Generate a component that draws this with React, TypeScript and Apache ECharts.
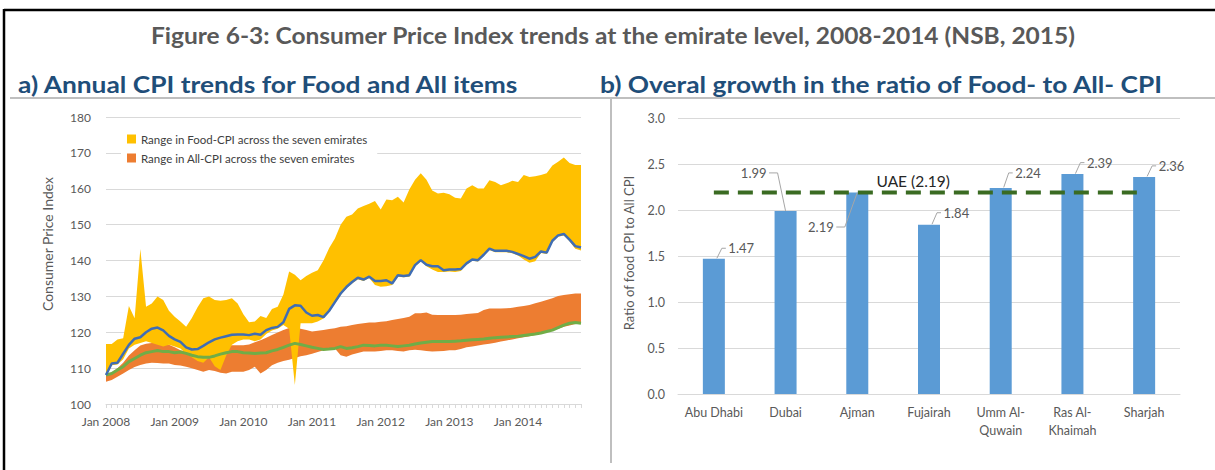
import React, { useEffect, useRef } from 'react';
import * as echarts from 'echarts';

// ---------- Panel a: monthly CPI, Jan 2008 - Dec 2014 ----------
const years = [2008, 2009, 2010, 2011, 2012, 2013, 2014];
const monthNames = ['Jan', 'Feb', 'Mar', 'Apr', 'May', 'Jun', 'Jul', 'Aug', 'Sep', 'Oct', 'Nov', 'Dec'];
const months = years.flatMap((y) => monthNames.map((m) => `${m} ${y}`));

// Highest Food-CPI among the seven emirates
const foodMax = [
  116.7, 116.7, 118.0, 118.3, 127.3, 123.9, 143.2, 127.1, 128.0, 130.0, 129.0, 126.0,
  124.3, 123.0, 121.5, 124.0, 127.0, 129.5, 130.0, 129.0, 128.8, 129.0, 129.5, 128.0,
  125.0, 122.8, 123.0, 124.5, 124.0, 126.5, 127.1, 130.5, 136.9, 136.0, 134.5, 135.7,
  136.6, 137.3, 140.0, 143.5, 146.1, 150.0, 152.2, 152.8, 154.5, 155.2, 155.8, 156.6,
  154.2, 157.0, 156.8, 157.8, 156.2, 159.8, 162.5, 164.3, 162.5, 159.5, 158.7, 158.9,
  158.5, 157.5, 157.3, 160.1, 161.0, 160.1, 160.1, 162.4, 161.9, 161.0, 161.5, 162.2,
  161.9, 163.8, 163.3, 163.5, 163.8, 164.3, 166.5, 167.5, 168.7, 167.2, 166.6, 166.6,
];
// Lowest Food-CPI among the seven emirates
const foodMin = [
  107.8, 110.8, 111.0, 112.5, 115.5, 116.5, 117.0, 117.5, 117.0, 116.5, 116.0, 116.5,
  116.0, 115.5, 114.0, 113.0, 112.0, 111.5, 113.0, 110.5, 109.5, 113.5, 116.5, 117.5,
  118.0, 118.0, 117.5, 118.0, 119.5, 120.5, 121.0, 122.0, 121.0, 105.3, 122.5, 122.5,
  122.5, 123.0, 123.8, 125.6, 128.0, 130.4, 132.2, 133.6, 134.8, 134.3, 135.1, 133.2,
  132.7, 132.8, 133.2, 135.5, 135.3, 135.5, 138.3, 139.7, 138.4, 137.5, 136.8, 136.8,
  136.9, 136.8, 137.1, 138.8, 139.9, 139.7, 141.2, 142.9, 142.3, 142.3, 142.3, 142.0,
  141.4, 140.3, 139.4, 139.8, 142.1, 141.8, 145.1, 146.6, 147.0, 145.4, 143.3, 142.8,
];
// Highest All-CPI among the seven emirates
const allMax = [
  108.3, 108.8, 110.0, 111.5, 113.5, 115.0, 116.3, 116.8, 117.0, 117.4, 117.0, 116.5,
  115.8, 115.0, 114.6, 114.2, 113.8, 113.8, 114.3, 115.3, 116.0, 116.2, 116.4, 116.4,
  116.4, 116.6, 117.2, 117.8, 118.5, 119.2, 119.9, 120.6, 121.2, 121.4, 121.0, 120.6,
  120.2, 120.4, 120.6, 120.9, 121.1, 121.5, 121.7, 122.0, 122.3, 122.5, 122.7, 122.7,
  122.9, 123.1, 123.4, 123.7, 124.0, 124.3, 125.3, 125.3, 125.5, 124.9, 124.8, 124.8,
  124.8, 124.8, 124.9, 125.1, 125.2, 125.4, 126.2, 126.6, 126.6, 126.6, 126.7, 126.8,
  127.1, 127.3, 127.6, 128.1, 128.5, 129.0, 129.5, 130.1, 130.4, 130.6, 130.8, 130.8,
];
// Lowest All-CPI among the seven emirates
const allMin = [
  106.2, 106.7, 107.6, 108.5, 109.5, 110.3, 110.9, 111.3, 111.5, 111.4, 111.3, 111.3,
  110.9, 110.7, 110.4, 110.0, 109.5, 109.0, 109.5, 109.2, 108.7, 108.5, 109.0, 109.0,
  109.0, 109.5, 110.4, 108.5, 109.5, 110.8, 111.5, 112.0, 112.3, 112.8, 113.3, 113.6,
  114.0, 114.5, 115.0, 115.2, 115.5, 113.6, 113.2, 113.8, 114.2, 114.6, 114.6, 114.6,
  114.8, 115.0, 115.0, 114.8, 114.6, 115.0, 115.1, 115.0, 114.8, 114.6, 114.7, 114.8,
  115.0, 115.0, 115.3, 115.8, 116.0, 116.3, 116.6, 116.8, 117.1, 117.4, 117.7, 118.0,
  118.3, 118.6, 118.9, 119.2, 119.6, 120.0, 120.6, 121.0, 121.5, 121.9, 122.3, 122.5,
];
// UAE-level Food-CPI (blue line)
const uaeFood = [
  108.1, 111.3, 111.5, 114.0, 116.5, 118.2, 118.6, 120.0, 121.0, 121.3, 120.5, 119.0,
  118.0, 117.3, 115.8, 115.2, 115.3, 116.2, 117.2, 118.0, 118.5, 118.9, 119.3, 119.4,
  119.4, 119.2, 119.6, 119.3, 120.6, 121.2, 121.5, 122.8, 126.5, 127.5, 127.4, 125.5,
  124.6, 124.8, 124.2, 126.0, 128.4, 130.8, 132.6, 134.0, 135.2, 134.7, 135.5, 134.3,
  134.3, 134.5, 133.6, 135.9, 135.7, 135.9, 138.7, 140.1, 138.8, 138.4, 138.4, 137.3,
  137.5, 137.5, 137.6, 139.2, 140.3, 140.1, 141.6, 143.3, 142.7, 142.7, 142.7, 142.4,
  141.8, 141.2, 140.5, 141.0, 142.5, 142.2, 145.5, 147.0, 147.4, 145.8, 144.0, 143.6,
];
// UAE-level All-CPI (green line)
const uaeAll = [
  108.1, 108.5, 109.5, 110.4, 111.8, 112.7, 113.6, 114.3, 114.6, 114.9, 114.6, 114.6,
  114.3, 114.5, 114.1, 113.6, 113.2, 113.0, 113.0, 113.4, 113.9, 114.3, 114.6, 114.6,
  114.3, 114.2, 114.1, 114.2, 114.3, 114.8, 115.2, 115.8, 116.4, 116.9, 116.6, 116.2,
  115.8, 115.5, 115.2, 115.3, 115.5, 116.0, 115.5, 115.7, 116.0, 116.4, 116.3, 116.2,
  116.4, 116.4, 116.2, 116.0, 116.2, 116.4, 116.7, 117.0, 117.2, 117.4, 117.4, 117.4,
  117.4, 117.5, 117.6, 117.8, 117.9, 118.0, 118.1, 118.3, 118.5, 118.6, 118.7, 118.8,
  118.9, 119.1, 119.3, 119.5, 119.8, 120.2, 120.6, 121.3, 122.0, 122.5, 122.7, 122.5,
];

// ---------- Panel b: ratio of Food- to All-CPI growth ----------
const emirates = ['Abu Dhabi', 'Dubai', 'Ajman', 'Fujairah', 'Umm Al-\nQuwain', 'Ras Al-\nKhaimah', 'Sharjah'];
const ratio = [1.47, 1.99, 2.19, 1.84, 2.24, 2.39, 2.36];
const uaeRatioLine = [2.19, 2.19, 2.19, 2.19, 2.19, 2.19, 2.19];
const uaeRatioLabel = 'UAE (2.19)';

const FOOD_NAME = 'Range in Food-CPI across the seven emirates';
const ALL_NAME = 'Range in All-CPI across the seven emirates';
const FONT = 'Lato, "Noto Sans", sans-serif';

// callout placement (style only): side of the label and its offset from the bar top
const callouts = [
  { side: 'right', dx: 14.5, dy: -10.5 },
  { side: 'left', dx: -19, dy: -38 },
  { side: 'left', dx: -23.5, dy: 34.5 },
  { side: 'right', dx: 14.5, dy: -12 },
  { side: 'right', dx: 14.5, dy: -15 },
  { side: 'right', dx: 14.5, dy: -11.5 },
  { side: 'right', dx: 14.5, dy: -11 },
];

export default function App() {
  const ref = useRef<HTMLDivElement>(null);

  useEffect(() => {
    if (!ref.current) return;
    const chart = echarts.init(ref.current, undefined, { renderer: 'svg' });
    const foodRange = foodMax.map((v, i) => +(v - foodMin[i]).toFixed(2));
    const allRange = allMax.map((v, i) => +(v - allMin[i]).toFixed(2));
    const gray = '#595959';
    const grid = '#D9D9D9';

    chart.setOption({
      animation: false,
      backgroundColor: '#fff',
      textStyle: { fontFamily: FONT },
      grid: [
        { left: 106, right: 634, top: 117, bottom: 66 },
        { left: 678, right: 35, top: 118, bottom: 76 },
      ],
      legend: {
        orient: 'vertical',
        left: 121,
        top: 129,
        padding: [4, 10, 4, 6],
        backgroundColor: '#fff',
        itemWidth: 9,
        itemHeight: 9,
        itemGap: 7,
        icon: 'rect',
        selectedMode: false,
        textStyle: { fontSize: 11.5, color: '#404040', fontFamily: FONT },
        data: [
          { name: FOOD_NAME, itemStyle: { color: '#FFC000' } },
          { name: ALL_NAME, itemStyle: { color: '#ED7D31' } },
        ],
      },
      xAxis: [
        {
          type: 'category',
          gridIndex: 0,
          data: months,
          boundaryGap: false,
          axisLine: { lineStyle: { color: grid } },
          axisTick: { show: true, interval: 0, length: 4, lineStyle: { color: grid } },
          axisLabel: {
            interval: (idx: number) => idx % 12 === 0,
            color: gray,
            fontSize: 12,
            margin: 11,
          },
          splitLine: { show: false },
        },
        {
          type: 'category',
          gridIndex: 1,
          data: emirates,
          axisLine: { lineStyle: { color: grid } },
          axisTick: { show: false },
          axisLabel: { color: gray, fontSize: 12.5, lineHeight: 18, margin: 9, interval: 0 },
        },
      ],
      yAxis: [
        {
          type: 'value',
          gridIndex: 0,
          min: 100,
          max: 180,
          interval: 10,
          axisLine: { show: false },
          axisTick: { show: false },
          axisLabel: { color: gray, fontSize: 12, margin: 15 },
          splitLine: { lineStyle: { color: grid } },
        },
        {
          type: 'value',
          gridIndex: 1,
          min: 0,
          max: 3,
          interval: 0.5,
          axisLine: { show: false },
          axisTick: { show: false },
          axisLabel: { color: gray, fontSize: 12.5, margin: 13, formatter: (v: number) => v.toFixed(1) },
          splitLine: { lineStyle: { color: grid } },
        },
      ],
      series: [
        {
          name: 'allBase', type: 'line', stack: 'all', data: allMin, symbol: 'none', silent: true,
          lineStyle: { width: 0, opacity: 0 }, xAxisIndex: 0, yAxisIndex: 0,
        },
        {
          name: ALL_NAME, type: 'line', stack: 'all', data: allRange, symbol: 'none', silent: true,
          lineStyle: { width: 0, opacity: 0 }, itemStyle: { color: '#ED7D31' },
          areaStyle: { color: '#ED7D31', opacity: 1 }, xAxisIndex: 0, yAxisIndex: 0,
        },
        {
          name: 'foodBase', type: 'line', stack: 'food', data: foodMin, symbol: 'none', silent: true,
          lineStyle: { width: 0, opacity: 0 }, xAxisIndex: 0, yAxisIndex: 0,
        },
        {
          name: FOOD_NAME, type: 'line', stack: 'food', data: foodRange, symbol: 'none', silent: true,
          lineStyle: { width: 0, opacity: 0 }, itemStyle: { color: '#FFC000' },
          areaStyle: { color: '#FFC000', opacity: 1 }, xAxisIndex: 0, yAxisIndex: 0,
        },
        {
          name: 'UAE All-CPI', type: 'line', data: uaeAll, symbol: 'none', silent: true,
          lineStyle: { color: '#70AD47', width: 3 }, xAxisIndex: 0, yAxisIndex: 0,
        },
        {
          name: 'UAE Food-CPI', type: 'line', data: uaeFood, symbol: 'none', silent: true,
          lineStyle: { color: '#3F6DB5', width: 2.5 }, xAxisIndex: 0, yAxisIndex: 0,
        },
        {
          name: 'Ratio', type: 'bar', data: ratio, barWidth: 22, xAxisIndex: 1, yAxisIndex: 1,
          itemStyle: { color: '#5B9BD5' }, silent: true,
        },
        {
          name: 'UAE', type: 'line', data: uaeRatioLine, symbol: 'none', xAxisIndex: 1, yAxisIndex: 1,
          silent: true, z: 5,
          lineStyle: { color: '#3A6B22', width: 4, type: [15, 9], cap: 'butt' },
        },
      ],
    });

    // annotations positioned through the chart's own scales
    const px = (i: number, v: number) => chart.convertToPixel({ gridIndex: 1 }, [i, v]) as number[];
    const labelFont = { fontSize: 13, fontFamily: FONT, fill: gray };
    const anno: any[] = [];
    ratio.forEach((v, i) => {
      const [tx, ty] = px(i, v);
      const c = callouts[i];
      const ly = ty + c.dy;
      let pts: number[][];
      if (c.side === 'right') {
        pts = [[tx + 3, ty - 0.5], [tx + 8, ly], [tx + 12, ly]];
      } else {
        pts = [[tx + c.dx + 2.5, ly], [tx + c.dx + 11, ly], [tx, ty]];
      }
      anno.push({
        type: 'polyline', z: 10, silent: true,
        shape: { points: pts },
        style: { stroke: '#A6A6A6', lineWidth: 1, fill: null },
      });
      anno.push({
        type: 'text', z: 10, silent: true,
        style: {
          ...labelFont,
          text: v.toFixed(2),
          x: tx + c.dx,
          y: ly,
          align: c.side === 'right' ? 'left' : 'right',
          verticalAlign: 'middle',
        },
      });
    });
    const [ax, ay] = px(2, uaeRatioLine[2]);
    const [bx] = px(3, uaeRatioLine[3]);
    anno.push({
      type: 'text', z: 10, silent: true,
      style: {
        text: uaeRatioLabel, x: ax + (bx - ax) * 0.78, y: ay - 12, align: 'center', verticalAlign: 'middle',
        fontSize: 15.5, fontFamily: FONT, fill: '#262626',
      },
    });

    chart.setOption({
      graphic: [
        { type: 'line', silent: true, shape: { x1: 4, y1: 10, x2: 1215, y2: 10 }, style: { stroke: '#000', lineWidth: 2.5 } },
        { type: 'line', silent: true, shape: { x1: 4, y1: 9, x2: 4, y2: 470 }, style: { stroke: '#000', lineWidth: 2.5 } },
        { type: 'line', silent: true, shape: { x1: 10, y1: 98, x2: 1215, y2: 98 }, style: { stroke: '#BFBFBF', lineWidth: 2 } },
        { type: 'line', silent: true, shape: { x1: 611, y1: 98, x2: 611, y2: 463 }, style: { stroke: '#BFBFBF', lineWidth: 2 } },
        {
          type: 'text', silent: true, x: 613, y: 35, scaleX: 1.09,
          style: {
            text: 'Figure 6-3: Consumer Price Index trends at the emirate level, 2008-2014 (NSB, 2015)',
            x: 0, y: 0, align: 'center', verticalAlign: 'middle',
            fontSize: 22.5, fontWeight: 'bold', fontFamily: FONT, fill: '#595959',
          },
        },
        {
          type: 'text', silent: true, x: 18, y: 84, scaleX: 1.145,
          style: {
            text: 'a) Annual CPI trends for Food and All items', x: 0, y: 0, align: 'left', verticalAlign: 'middle',
            fontSize: 23, fontWeight: 'bold', fontFamily: FONT, fill: '#1F4E79',
          },
        },
        {
          type: 'text', silent: true, x: 600, y: 84, scaleX: 1.145,
          style: {
            text: 'b) Overal growth in the ratio of Food- to All- CPI', x: 0, y: 0, align: 'left', verticalAlign: 'middle',
            fontSize: 23, fontWeight: 'bold', fontFamily: FONT, fill: '#1F4E79',
          },
        },
        {
          type: 'text', silent: true, x: 47, y: 244, rotation: Math.PI / 2,
          style: {
            text: 'Consumer Price Index', x: 0, y: 0, align: 'center', verticalAlign: 'middle',
            fontSize: 14, fontFamily: FONT, fill: gray,
          },
        },
        {
          type: 'text', silent: true, x: 629, y: 253, rotation: Math.PI / 2,
          style: {
            text: 'Ratio of food CPI to All CPI', x: 0, y: 0, align: 'center', verticalAlign: 'middle',
            fontSize: 13, fontFamily: FONT, fill: gray,
          },
        },
        ...anno,
      ],
    });

    return () => chart.dispose();
  }, []);

  return (
    <div
      ref={ref}
      style={{ position: 'fixed', left: 0, top: 0, width: 1215, height: 470, background: '#fff' }}
    />
  );
}
